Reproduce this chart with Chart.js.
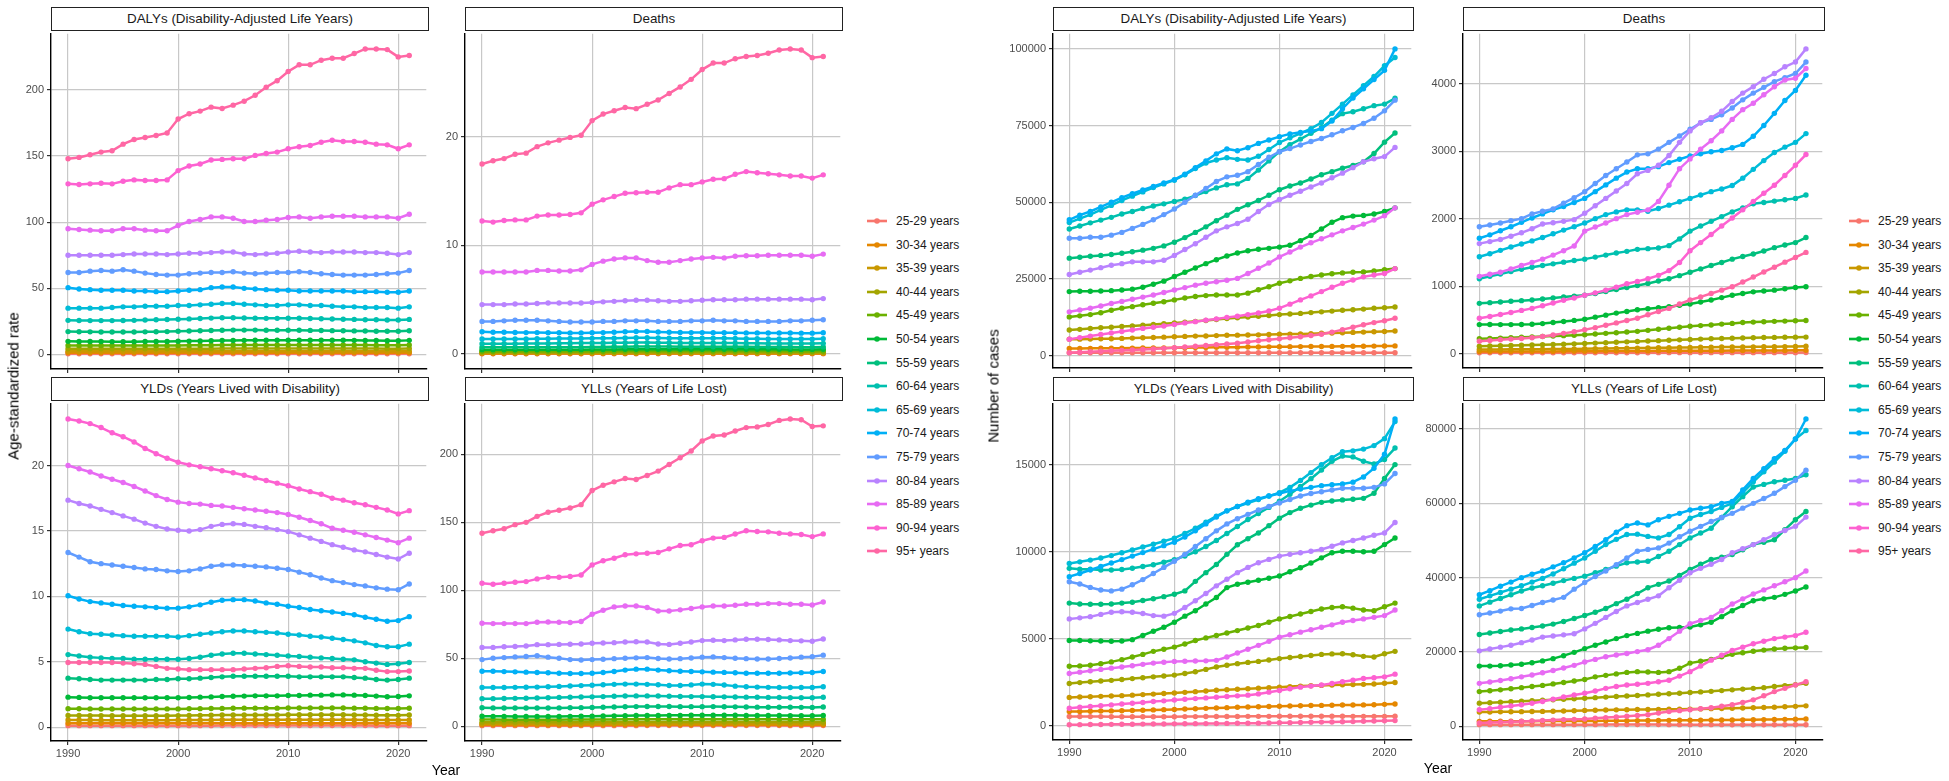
<!DOCTYPE html>
<html>
<head>
<meta charset="utf-8">
<script src="https://cdn.jsdelivr.net/npm/chart.js@4.4.1/dist/chart.umd.min.js"></script>
<style>
  body { margin: 0; background: #fff; width: 1949px; height: 781px; overflow: hidden; position: relative;
         font-family: "Liberation Sans", Arial, sans-serif; }
  .facet { position: absolute; }
  .strip { position: absolute; box-sizing: border-box; border: 1.5px solid #222; background: #fff;
           font-size: 13.4px; color: #1a1a1a; text-align: center; line-height: 21px; white-space: nowrap; }
  .ytitle { position: absolute; font-size: 15px; color: #000; white-space: nowrap;
            transform: translate(-50%, -50%) rotate(-90deg); }
  .xtitle { position: absolute; font-size: 14px; color: #000; transform: translate(-50%, -50%); }
  .item { position: absolute; height: 16px; font-size: 12px; color: #1a1a1a; white-space: nowrap; }
  .item svg { position: absolute; left: 0; top: 3px; }
  .item span { position: absolute; left: 29px; top: 0; line-height: 16px; }
</style>
</head>
<body>
<script>
const years = [1990, 1991, 1992, 1993, 1994, 1995, 1996, 1997, 1998, 1999, 2000, 2001, 2002, 2003, 2004, 2005,
               2006, 2007, 2008, 2009, 2010, 2011, 2012, 2013, 2014, 2015, 2016, 2017, 2018, 2019, 2020, 2021];
const yearTicks = [1990, 2000, 2010, 2020];

const ageGroups = ['25-29 years', '30-34 years', '35-39 years', '40-44 years', '45-49 years', '50-54 years',
                   '55-59 years', '60-64 years', '65-69 years', '70-74 years', '75-79 years', '80-84 years',
                   '85-89 years', '90-94 years', '95+ years'];
const ageColors = ['#F8766D', '#E58700', '#C99800', '#A3A500', '#6BB100', '#00BA38', '#00BF7D', '#00C0AF',
                   '#00BCD8', '#00B0F6', '#619CFF', '#B983FF', '#E76BF3', '#FD61D1', '#FF67A4'];

const facetTitles = ['DALYs (Disability-Adjusted Life Years)', 'Deaths', 'YLDs (Years Lived with Disability)', 'YLLs (Years of Life Lost)'];

// ---- age-standardized rate, one row per age group (25-29 ... 95+) ----
const rateDalys = [
  [0.55,0.55,0.54,0.54,0.53,0.53,0.53,0.53,0.53,0.53,0.53,0.54,0.55,0.56,0.56,0.57,0.57,0.57,0.57,0.57,0.58,0.58,0.58,0.58,0.57,0.57,0.57,0.57,0.56,0.56,0.56,0.57],
  [1.30,1.30,1.29,1.29,1.28,1.28,1.28,1.28,1.29,1.29,1.30,1.31,1.33,1.34,1.35,1.36,1.36,1.37,1.37,1.37,1.38,1.38,1.38,1.38,1.37,1.37,1.36,1.36,1.35,1.35,1.35,1.37],
  [2.40,2.40,2.39,2.38,2.37,2.37,2.37,2.37,2.38,2.38,2.40,2.42,2.44,2.46,2.48,2.50,2.50,2.51,2.51,2.51,2.52,2.52,2.52,2.51,2.50,2.50,2.49,2.48,2.47,2.46,2.46,2.50],
  [4.30,4.30,4.28,4.27,4.26,4.26,4.26,4.27,4.28,4.30,4.32,4.35,4.38,4.41,4.44,4.46,4.47,4.48,4.48,4.49,4.50,4.50,4.50,4.49,4.48,4.47,4.46,4.44,4.42,4.40,4.40,4.46],
  [6.80,6.78,6.75,6.72,6.70,6.70,6.70,6.72,6.75,6.78,6.82,6.88,6.95,7.02,7.08,7.12,7.14,7.16,7.16,7.17,7.18,7.18,7.18,7.16,7.14,7.12,7.10,7.07,7.03,7.00,7.00,7.10],
  [9.9,9.85,9.8,9.75,9.7,9.7,9.7,9.75,9.8,9.85,9.95,10.1,10.25,10.4,10.5,10.6,10.65,10.7,10.7,10.75,10.8,10.8,10.8,10.8,10.75,10.7,10.65,10.6,10.5,10.4,10.4,10.65],
  [17.3,17.2,17.1,17.0,17.0,17.0,17.0,17.1,17.2,17.3,17.5,17.7,17.9,18.1,18.3,18.4,18.4,18.4,18.3,18.3,18.3,18.3,18.2,18.1,18.0,17.9,17.8,17.7,17.6,17.5,17.5,17.9],
  [25.8,25.7,25.6,25.6,25.6,25.7,25.8,26.0,26.2,26.4,26.6,26.9,27.2,27.5,27.7,27.8,27.6,27.4,27.3,27.3,27.4,27.4,27.2,27.0,26.8,26.6,26.5,26.3,26.2,26.1,26.0,26.5],
  [35,35,35,35,35.5,36,36,36.5,36.5,36.5,37,37,37.5,38,38.5,38.5,38,37.5,37,37,37.5,37.5,37,37,36.5,36,36,35.5,35.5,35.5,35,36],
  [50.5,49.5,49,48.5,48.5,48.5,48,48,47.5,47.5,48,48.5,49,50.5,51,51,50,49.5,49,48.5,48.5,48,48,48,48,48,47.5,47.5,47.5,47,47,48],
  [62,62,63,63.5,63,64,63,61.5,60.5,60,60,61,61.5,62,62,62.5,61.5,61,61.5,62,62,62.5,62,61,60.5,60,60,60,60.5,61,61.5,63.5],
  [75,75,75,75,75,75.5,76,76,76,75.5,76,76.5,76.5,77,77.5,77.5,76,75.5,76,76.5,77.5,78,77.5,77,77.5,77.5,77.5,77,77,76.5,75.5,77],
  [95,94.5,94,93.5,93.5,95,95,94,93.5,93.5,97.5,100.5,102,104,104,103,100.5,100.5,101.5,102,103.5,104,103,104,104.5,104.5,104.5,104,104,104,103,106],
  [129,128.5,129,129.5,129,131,132,131.5,131.5,132,139,142.5,144,147,147.5,148,148,150.5,152,153,155.5,157,158,160.5,162,161,161,160.5,159,158.5,155.5,158.5],
  [148,149,151,153,154,159,162.5,164,165.5,167.5,178,182,184,187,186,188.5,191.5,196,202,207,214,219,219,222.5,224,224,227.5,231,231,230.5,225,226]
];
const rateDeaths = [
  [0.021,0.021,0.021,0.020,0.020,0.020,0.020,0.020,0.020,0.020,0.021,0.021,0.021,0.022,0.022,0.022,0.022,0.022,0.022,0.022,0.022,0.022,0.022,0.022,0.022,0.022,0.021,0.021,0.021,0.021,0.021,0.021],
  [0.050,0.050,0.049,0.049,0.048,0.048,0.048,0.048,0.049,0.049,0.050,0.051,0.052,0.053,0.053,0.054,0.054,0.054,0.054,0.054,0.055,0.055,0.055,0.054,0.054,0.053,0.053,0.052,0.052,0.051,0.051,0.052],
  [0.090,0.090,0.089,0.088,0.088,0.088,0.088,0.088,0.089,0.090,0.091,0.092,0.094,0.095,0.096,0.097,0.097,0.098,0.098,0.098,0.099,0.099,0.098,0.098,0.097,0.096,0.096,0.095,0.094,0.093,0.093,0.095],
  [0.150,0.150,0.149,0.148,0.147,0.147,0.147,0.148,0.149,0.150,0.152,0.154,0.156,0.158,0.160,0.161,0.162,0.162,0.162,0.163,0.163,0.163,0.163,0.162,0.161,0.160,0.159,0.158,0.157,0.156,0.156,0.159],
  [0.250,0.249,0.247,0.245,0.244,0.244,0.244,0.245,0.247,0.249,0.252,0.256,0.260,0.264,0.267,0.269,0.270,0.271,0.271,0.272,0.272,0.272,0.272,0.271,0.270,0.268,0.266,0.264,0.262,0.260,0.260,0.264],
  [0.40,0.40,0.39,0.39,0.39,0.39,0.39,0.39,0.40,0.40,0.41,0.41,0.42,0.43,0.43,0.44,0.44,0.44,0.44,0.44,0.44,0.44,0.44,0.44,0.44,0.43,0.43,0.43,0.42,0.42,0.42,0.43],
  [0.62,0.62,0.61,0.61,0.61,0.61,0.61,0.62,0.62,0.63,0.64,0.65,0.66,0.67,0.68,0.68,0.68,0.68,0.67,0.67,0.67,0.67,0.67,0.66,0.66,0.65,0.65,0.64,0.64,0.63,0.63,0.65],
  [0.95,0.95,0.95,0.95,0.96,0.96,0.97,0.98,0.99,1.00,1.01,1.02,1.03,1.04,1.05,1.05,1.04,1.03,1.02,1.02,1.02,1.02,1.01,1.00,0.99,0.98,0.97,0.97,0.96,0.96,0.96,0.98],
  [1.38,1.38,1.38,1.38,1.39,1.40,1.41,1.42,1.43,1.43,1.44,1.45,1.46,1.48,1.49,1.49,1.47,1.45,1.44,1.45,1.46,1.46,1.45,1.43,1.41,1.40,1.39,1.38,1.38,1.38,1.37,1.40],
  [2.05,2.0,2.0,1.98,1.97,1.97,1.95,1.95,1.94,1.94,1.95,1.97,2.0,2.05,2.07,2.07,2.03,2.0,1.98,1.97,1.97,1.96,1.95,1.95,1.94,1.94,1.93,1.93,1.93,1.92,1.92,1.96],
  [3.0,3.0,3.05,3.1,3.1,3.1,3.05,3.0,2.95,2.95,2.95,3.0,3.0,3.05,3.05,3.05,3.0,3.0,3.0,3.05,3.05,3.1,3.05,3.05,3.0,3.0,3.0,3.0,3.05,3.05,3.1,3.15],
  [4.55,4.55,4.55,4.6,4.6,4.65,4.7,4.7,4.7,4.7,4.75,4.8,4.85,4.9,4.95,4.95,4.9,4.85,4.85,4.9,4.95,5.0,5.0,5.0,5.05,5.05,5.05,5.05,5.05,5.05,5.0,5.1],
  [7.55,7.55,7.55,7.55,7.55,7.7,7.7,7.65,7.65,7.75,8.25,8.55,8.75,8.85,8.85,8.6,8.45,8.45,8.6,8.75,8.85,8.9,8.85,9.0,9.05,9.05,9.1,9.1,9.1,9.1,9.0,9.2],
  [12.25,12.15,12.3,12.35,12.35,12.7,12.8,12.8,12.85,13.0,13.8,14.2,14.5,14.8,14.85,14.9,14.9,15.3,15.6,15.6,15.85,16.1,16.15,16.55,16.8,16.7,16.6,16.5,16.4,16.4,16.2,16.5],
  [17.5,17.8,18.0,18.4,18.5,19.1,19.45,19.7,19.95,20.15,21.5,22.1,22.4,22.7,22.6,23.0,23.4,24.0,24.6,25.3,26.2,26.8,26.8,27.2,27.4,27.5,27.7,28.0,28.1,28.0,27.3,27.4]
];
const rateYlds = [
  [0.12,0.12,0.12,0.12,0.12,0.12,0.12,0.12,0.12,0.12,0.12,0.12,0.12,0.12,0.13,0.13,0.13,0.13,0.13,0.13,0.13,0.13,0.13,0.13,0.13,0.13,0.13,0.13,0.12,0.12,0.12,0.12],
  [0.30,0.30,0.30,0.30,0.30,0.30,0.30,0.30,0.30,0.30,0.30,0.30,0.31,0.31,0.31,0.31,0.31,0.31,0.31,0.31,0.31,0.31,0.31,0.31,0.31,0.31,0.31,0.31,0.31,0.30,0.30,0.31],
  [0.55,0.55,0.55,0.54,0.54,0.54,0.54,0.54,0.54,0.54,0.55,0.55,0.56,0.56,0.57,0.57,0.57,0.57,0.57,0.57,0.57,0.57,0.57,0.57,0.57,0.57,0.57,0.56,0.56,0.55,0.55,0.56],
  [0.90,0.90,0.89,0.89,0.88,0.88,0.88,0.88,0.88,0.88,0.89,0.90,0.91,0.92,0.93,0.94,0.94,0.94,0.94,0.94,0.95,0.95,0.95,0.95,0.95,0.95,0.94,0.93,0.92,0.91,0.91,0.93],
  [1.42,1.41,1.40,1.39,1.39,1.39,1.39,1.39,1.39,1.40,1.40,1.41,1.42,1.43,1.44,1.45,1.46,1.46,1.46,1.46,1.47,1.47,1.47,1.47,1.47,1.47,1.46,1.45,1.44,1.43,1.43,1.45],
  [2.3,2.28,2.25,2.25,2.25,2.25,2.25,2.25,2.25,2.25,2.25,2.27,2.3,2.32,2.35,2.37,2.38,2.4,2.4,2.4,2.42,2.43,2.45,2.45,2.47,2.47,2.45,2.42,2.38,2.33,2.35,2.4],
  [3.75,3.7,3.65,3.6,3.6,3.6,3.6,3.6,3.65,3.65,3.7,3.7,3.75,3.8,3.85,3.9,3.9,3.9,3.9,3.9,3.9,3.85,3.85,3.85,3.85,3.85,3.8,3.75,3.65,3.6,3.65,3.75],
  [5.55,5.45,5.35,5.3,5.25,5.25,5.2,5.2,5.2,5.2,5.2,5.25,5.35,5.5,5.6,5.65,5.65,5.6,5.55,5.5,5.45,5.4,5.35,5.3,5.25,5.2,5.15,5.0,4.9,4.8,4.85,4.95],
  [7.5,7.3,7.15,7.1,7.05,7.0,6.95,6.95,6.95,6.95,6.9,7.0,7.1,7.2,7.3,7.35,7.35,7.3,7.25,7.2,7.1,7.05,6.95,6.9,6.8,6.7,6.6,6.45,6.25,6.15,6.15,6.35],
  [10.05,9.8,9.6,9.5,9.4,9.3,9.25,9.2,9.15,9.1,9.1,9.2,9.35,9.55,9.7,9.75,9.75,9.65,9.5,9.4,9.25,9.15,9.0,8.9,8.8,8.7,8.6,8.4,8.25,8.1,8.15,8.45],
  [13.35,13.0,12.65,12.5,12.4,12.3,12.2,12.1,12.05,11.95,11.9,11.95,12.1,12.3,12.4,12.4,12.35,12.3,12.25,12.15,12.05,11.85,11.65,11.4,11.2,11.05,10.9,10.8,10.65,10.55,10.5,10.95],
  [17.35,17.1,16.9,16.65,16.4,16.15,15.9,15.6,15.35,15.15,15.05,15.0,15.1,15.35,15.5,15.55,15.5,15.35,15.25,15.1,14.95,14.7,14.45,14.2,13.95,13.75,13.55,13.4,13.2,13.0,12.85,13.3],
  [20,19.75,19.5,19.2,18.95,18.7,18.4,18.05,17.7,17.4,17.2,17.1,17.05,16.95,16.9,16.8,16.7,16.6,16.5,16.4,16.25,16.05,15.8,15.55,15.2,15.05,14.9,14.7,14.5,14.3,14.1,14.45],
  [23.55,23.4,23.2,22.9,22.5,22.2,21.8,21.3,20.9,20.55,20.25,20.05,19.9,19.75,19.6,19.45,19.25,19.05,18.85,18.65,18.45,18.2,18.0,17.8,17.5,17.35,17.15,17.0,16.8,16.6,16.3,16.55],
  [4.95,4.95,4.95,4.95,4.95,4.9,4.85,4.8,4.65,4.5,4.45,4.4,4.4,4.4,4.4,4.4,4.45,4.5,4.55,4.65,4.7,4.65,4.6,4.6,4.55,4.55,4.5,4.5,4.35,4.25,4.25,4.3]
];
const rateYlls = [
  [0.43,0.43,0.42,0.42,0.41,0.41,0.41,0.41,0.41,0.41,0.41,0.42,0.43,0.44,0.44,0.45,0.45,0.45,0.45,0.45,0.46,0.46,0.46,0.46,0.45,0.45,0.45,0.45,0.44,0.44,0.44,0.45],
  [1.00,1.00,0.99,0.99,0.98,0.98,0.98,0.98,0.99,0.99,1.00,1.01,1.02,1.03,1.04,1.05,1.05,1.06,1.06,1.06,1.07,1.07,1.07,1.07,1.06,1.06,1.05,1.05,1.04,1.04,1.04,1.06],
  [1.85,1.85,1.84,1.84,1.83,1.83,1.83,1.83,1.84,1.84,1.85,1.87,1.88,1.90,1.91,1.93,1.93,1.94,1.94,1.94,1.95,1.95,1.95,1.94,1.93,1.93,1.92,1.92,1.91,1.91,1.91,1.94],
  [3.00,3.00,2.99,2.98,2.98,2.98,2.98,2.99,3.00,3.02,3.03,3.05,3.07,3.09,3.11,3.12,3.13,3.14,3.14,3.15,3.15,3.15,3.15,3.14,3.13,3.12,3.12,3.11,3.10,3.09,3.09,3.13],
  [4.88,4.87,4.85,4.83,4.81,4.81,4.81,4.83,4.86,4.88,4.92,4.97,5.03,5.09,5.14,5.17,5.18,5.20,5.20,5.21,5.21,5.21,5.21,5.19,5.17,5.15,5.14,5.12,5.09,5.07,5.07,5.15],
  [7.30,7.27,7.25,7.20,7.15,7.15,7.15,7.20,7.25,7.30,7.40,7.53,7.65,7.78,7.85,7.93,7.97,8.00,8.00,8.05,8.08,8.07,8.05,8.05,7.98,7.93,7.90,7.88,7.82,7.77,7.75,7.95],
  [13.6,13.5,13.45,13.4,13.4,13.4,13.4,13.5,13.55,13.65,13.8,14.0,14.15,14.3,14.45,14.5,14.5,14.5,14.4,14.4,14.4,14.45,14.35,14.25,14.15,14.05,14.0,13.95,13.95,13.9,13.85,14.15],
  [20.3,20.3,20.4,20.5,20.6,20.8,21,21.2,21.3,21.5,21.6,21.8,22,22.2,22.3,22.3,22.2,22,21.9,21.8,21.8,21.7,21.6,21.5,21.4,21.3,21.2,21.1,21,21,21,21.3],
  [28.5,28.5,28.5,28.6,28.7,28.8,29,29.3,29.6,29.9,30.2,30.5,30.8,31,31,30.8,30.5,30,30,30.4,31,30.8,30.3,29.5,29,28.8,28.6,28.5,28.5,28.5,28.5,29],
  [40.5,40.5,40.2,40,39.8,39.5,39.3,39,38.8,38.8,39,39.5,40.3,41.3,42,42,41.3,40.8,40.5,40.3,40,39.8,39.6,39.3,39,39,39,39,39.2,39.4,39.5,40.3],
  [49,50,50.5,51,51.3,51.8,50.8,50,49,48.7,49,49.3,49.7,50,50.3,50.5,49.8,49.5,49.7,50.2,50.8,51,50.5,50,49.7,49.5,49.5,49.8,50.2,50.8,51.2,52.3],
  [58,58,58.5,58.7,59,60,60,60.2,60.3,60.5,61,61.2,61.5,62,62.2,62,60.5,60.2,61,62,63,63.2,63,63.5,64,64,63.8,63.5,63,62.8,62.5,64.2],
  [75.8,75.5,75.5,75.5,75.5,76.5,76.7,76.5,76.3,77,82.4,85.3,87.8,88.5,88.5,87.3,84.8,84.8,85.6,86.6,87.8,88.5,88.5,89,89.7,89.7,90.2,90.2,89.7,89.7,89.2,91.4],
  [105.2,104.4,105.2,105.9,106.4,108.4,109.6,109.6,110.1,111.3,118.7,121.7,123.6,126.1,126.8,127.3,127.8,130.5,133,133.5,136.5,138.4,138.9,141.4,143.8,143.3,143,142,141.5,141,139.5,141.5],
  [142,143.8,145.3,148.3,150,154.4,157.4,158.9,160.6,163,173.4,177.3,179.8,182.3,181.5,184.5,187.7,192.6,197.5,202.5,209.9,213.5,214.3,217.2,219.7,220.2,222,225,226,225.5,220.5,221]
];

// ---- number of cases, one row per age group (25-29 ... 95+) ----
const numDalys = [
  [960,960,955,955,950,950,950,950,950,950,950,955,960,965,965,970,970,975,970,970,975,970,970,970,965,965,965,960,960,960,960,965],
  [2360,2380,2400,2420,2440,2460,2480,2500,2520,2540,2560,2600,2640,2680,2720,2760,2800,2830,2860,2890,2920,2950,2980,3000,3020,3040,3060,3080,3100,3130,3160,3200],
  [5360,5400,5450,5500,5550,5650,5750,5850,5950,6050,6200,6300,6400,6450,6550,6650,6700,6750,6800,6900,7000,7050,7100,7200,7300,7400,7500,7600,7700,7800,7900,8040],
  [8360,8600,8850,9100,9300,9500,9700,9950,10200,10450,10700,10950,11200,11500,11800,12100,12350,12600,12850,13100,13400,13600,13800,14050,14300,14550,14800,15000,15200,15450,15650,15900],
  [12650,13000,13400,14000,14800,15500,16000,16600,17100,17600,18200,18800,19300,19600,19800,19800,19800,20400,21500,22500,23600,24400,25200,25800,26300,26700,27000,27200,27300,27600,28000,28400],
  [20900,21000,21000,21100,21200,21400,21700,22300,23300,24300,25800,27200,28600,30000,31300,32500,33500,34200,34700,35000,35400,36000,37500,39200,41300,43500,45000,45500,45700,46200,47000,48200],
  [31800,32100,32400,32700,33000,33400,33900,34400,35000,35800,37000,38500,40200,42000,44000,45800,47700,49200,50600,52300,54100,55300,56300,57600,59000,60000,61100,62000,63200,65900,69600,72600],
  [41300,42300,43300,44200,45100,46200,47000,48000,48800,49500,50300,51000,52200,53500,54700,55700,56000,57800,60500,63500,66500,68800,70600,72500,74300,76800,78900,79500,80500,81500,82000,83900],
  [43400,44700,46000,47500,49000,50600,52000,53400,54800,56000,57200,59000,61000,62800,63800,64500,64000,63800,65000,67200,69500,71000,72500,74000,76000,79000,82000,85000,88000,91000,94500,97200],
  [44300,45800,47000,48500,50000,51500,52800,54000,55200,56300,57400,59200,61300,63500,65800,67400,66800,67800,69200,70300,71400,72300,72800,73200,74000,76500,80500,84000,87000,90000,93000,100000],
  [38300,38300,38600,38600,39300,40200,41500,42800,44300,46000,47800,50000,52300,54500,56800,58300,58800,60000,62300,64700,66500,67500,68700,69800,70800,72000,73300,74400,75700,77400,79800,83300],
  [26500,27200,27900,28700,29500,30000,30600,30600,30600,31100,32700,34600,36500,38600,40700,42000,43100,44500,47000,49300,50900,52300,53600,55000,56300,58000,59500,61300,63200,64200,64900,67900],
  [14300,14900,15500,16200,17000,17700,18400,19100,19800,20600,21400,22200,23000,23600,24100,24600,25200,26800,28500,30200,32200,33800,35400,36800,38100,39400,40700,41800,42900,44200,45600,48200],
  [5360,5900,6400,6900,7400,7900,8400,8900,9300,9700,10200,10700,11100,11600,12000,12500,12900,13400,13900,14600,15500,16800,18200,19500,20900,22300,23600,24700,25700,26300,26800,28400],
  [1000,1150,1300,1450,1600,1750,1900,2050,2200,2400,2600,2850,3100,3350,3600,3850,4100,4500,4900,5200,5500,5850,6200,6600,7000,7700,8500,9300,10100,10800,11400,12200]
];
const numDeaths = [
  [12,12,12,12,12,12,12,12,12,12,12,13,13,13,13,13,13,14,14,14,14,14,14,14,14,14,14,14,14,14,14,15],
  [30,30,31,31,32,32,33,33,34,34,35,36,37,38,39,40,40,41,42,42,43,43,44,44,45,45,46,46,47,47,48,50],
  [60,61,62,63,64,65,66,67,68,70,72,74,76,78,80,82,84,86,88,90,92,94,96,97,98,99,100,101,102,104,106,110],
  [110,113,116,120,124,128,132,136,140,145,150,156,162,168,174,180,186,192,198,204,210,215,220,224,228,232,235,238,240,242,244,245],
  [220,225,230,236,242,248,254,260,266,272,280,290,300,310,320,330,345,360,375,390,405,415,425,437,448,460,467,473,478,482,486,490],
  [430,432,430,430,432,435,445,460,475,492,510,540,570,600,625,650,665,680,695,715,735,765,795,830,865,890,915,928,940,960,980,990],
  [745,755,765,775,785,795,810,825,840,852,865,890,920,950,980,1010,1040,1075,1110,1155,1205,1255,1305,1350,1400,1440,1475,1520,1570,1610,1645,1720],
  [1110,1145,1180,1215,1250,1280,1305,1330,1355,1380,1400,1430,1460,1490,1515,1545,1555,1565,1600,1700,1815,1890,1960,2030,2100,2160,2220,2240,2260,2280,2300,2350],
  [1435,1480,1530,1580,1625,1670,1720,1775,1830,1880,1935,2000,2060,2100,2130,2130,2110,2150,2200,2250,2300,2350,2400,2440,2490,2600,2730,2860,2980,3060,3130,3260],
  [1710,1760,1820,1880,1945,2010,2070,2130,2180,2240,2300,2400,2500,2600,2690,2740,2740,2770,2830,2880,2930,2960,2990,3010,3050,3100,3220,3380,3560,3750,3900,4125],
  [1880,1905,1935,1970,2000,2070,2110,2145,2230,2310,2400,2520,2640,2740,2840,2945,2960,3030,3130,3225,3325,3420,3470,3540,3640,3760,3860,3945,4030,4090,4150,4320],
  [1630,1660,1690,1740,1790,1850,1920,1940,1960,1985,2080,2190,2300,2410,2520,2665,2715,2790,2935,3130,3300,3420,3495,3590,3735,3860,3955,4065,4150,4250,4320,4515],
  [1145,1175,1205,1255,1305,1350,1400,1460,1525,1595,1815,1875,1935,2000,2060,2095,2130,2255,2495,2740,2885,3030,3155,3300,3470,3615,3710,3835,3955,4055,4080,4225],
  [525,550,580,610,640,670,710,750,790,825,865,900,940,985,1035,1070,1110,1160,1230,1350,1525,1645,1765,1890,2010,2130,2255,2375,2495,2640,2790,2950],
  [185,195,205,215,225,235,255,275,300,325,355,385,420,455,490,525,575,625,670,735,795,840,890,940,990,1060,1135,1210,1280,1355,1425,1500]
];
const numYlds = [
  [530,530,525,525,520,520,520,520,520,520,520,525,525,530,530,535,535,540,540,540,545,545,545,545,545,545,545,540,540,540,540,545],
  [815,825,835,845,855,865,880,895,910,925,940,960,980,1000,1020,1040,1060,1075,1090,1105,1120,1135,1150,1160,1170,1180,1190,1195,1200,1210,1230,1250],
  [1630,1650,1670,1690,1710,1730,1760,1790,1820,1850,1880,1920,1960,2000,2040,2070,2100,2130,2160,2190,2220,2250,2280,2300,2320,2340,2360,2370,2380,2400,2440,2490],
  [2430,2480,2530,2570,2610,2660,2710,2760,2810,2860,2910,3000,3100,3240,3380,3480,3570,3640,3700,3780,3860,3920,3980,4040,4100,4130,4140,4080,3990,3950,4140,4275],
  [3420,3440,3480,3560,3670,3800,3950,4100,4275,4400,4520,4700,4900,5050,5190,5330,5470,5620,5760,5950,6140,6280,6420,6570,6710,6800,6840,6760,6650,6610,6840,7050],
  [4900,4900,4880,4870,4860,4870,4950,5190,5430,5660,5950,6300,6610,7000,7370,7940,8130,8250,8360,8480,8610,8850,9080,9350,9650,9940,10030,10030,10000,10030,10410,10790],
  [7050,7000,6980,6980,7000,7050,7100,7200,7300,7420,7560,7750,8300,8800,9270,9850,10400,10750,11080,11500,11930,12250,12500,12680,12840,12920,12980,13020,13070,13360,14210,15010],
  [9045,9000,9000,8950,8950,8980,9050,9150,9250,9400,9550,9750,10000,10300,10650,11050,11450,11850,12200,12550,12900,13300,13750,14200,14700,15200,15500,15450,15200,15050,15300,15960],
  [9330,9420,9520,9640,9780,9940,10100,10270,10430,10600,10780,11050,11350,11700,12050,12350,12600,12800,13000,13200,13400,13700,14100,14550,15000,15400,15750,15800,15900,16100,16500,17480],
  [8570,8750,8950,9150,9350,9550,9750,9950,10150,10350,10550,10850,11200,11600,12000,12350,12600,12850,13050,13200,13350,13500,13600,13700,13800,13850,13900,14000,14300,14800,15600,17630],
  [8280,8150,7950,7800,7750,7850,8100,8400,8750,9100,9450,9850,10300,10750,11200,11600,11900,12150,12400,12600,12800,13000,13200,13350,13450,13550,13650,13650,13650,13700,13900,14500],
  [6140,6200,6270,6400,6520,6550,6520,6450,6330,6300,6460,6800,7180,7600,8040,8420,8800,9100,9370,9560,9750,9850,9940,10030,10130,10320,10510,10650,10790,10950,11080,11685],
  [3000,3080,3160,3240,3310,3380,3450,3530,3600,3650,3700,3710,3720,3730,3760,3950,4180,4400,4620,4850,5090,5230,5380,5520,5660,5800,5950,6050,6140,6230,6330,6650],
  [1010,1060,1110,1150,1200,1250,1290,1340,1390,1430,1480,1520,1560,1600,1640,1680,1720,1760,1830,1930,2030,2130,2220,2280,2340,2430,2530,2620,2720,2760,2810,2965],
  [60,65,70,75,80,85,90,95,100,105,110,115,120,125,130,135,140,145,150,160,170,180,190,200,210,220,230,240,255,270,285,300]
];
const numYlls = [
  [440,440,440,440,440,440,440,440,440,440,440,440,445,445,445,445,445,445,440,440,440,435,435,435,430,430,430,425,425,425,420,420],
  [1330,1340,1350,1360,1370,1380,1390,1400,1410,1420,1430,1450,1470,1490,1510,1530,1550,1570,1590,1610,1630,1650,1670,1690,1710,1730,1760,1790,1820,1860,1910,1960],
  [3820,3850,3880,3900,3930,3960,4000,4050,4100,4180,4270,4320,4370,4420,4460,4500,4530,4560,4590,4600,4620,4680,4740,4800,4860,4920,4990,5060,5140,5240,5360,5500],
  [6220,6350,6480,6610,6740,6870,7000,7140,7280,7420,7560,7700,7850,8000,8150,8300,8450,8600,8750,8900,9070,9250,9400,9600,9800,10000,10200,10400,10700,10950,11200,11550],
  [9330,9550,9800,10100,10400,10700,11000,11400,11800,12200,12600,13300,13700,14100,14500,14700,14600,14500,14700,15600,17000,17500,18000,18700,19400,19800,20200,20500,20800,21000,21100,21200],
  [16200,16200,16300,16500,16700,17100,17600,18200,19000,19900,20900,21800,22700,23600,24400,25000,25600,26100,26500,26600,26700,27300,28000,29500,31100,32500,33800,34300,34700,35500,36400,37500],
  [24700,25100,25500,25900,26200,26600,27000,27500,28200,29000,29800,30700,31700,33000,34200,35700,37300,38200,39100,40600,42200,43600,44900,45500,46200,47500,48900,49500,50200,52900,55600,57800],
  [32400,33400,34400,35400,36400,37200,37800,38500,39200,39800,40400,41300,42200,43100,44000,44200,44400,45700,47100,48900,50700,52000,53300,56200,59100,61800,64400,65100,65800,66200,66700,67700],
  [34200,35100,36000,36900,37800,38800,39800,41000,42400,43900,45300,47100,48900,50300,51600,51700,51100,50700,51600,53700,56000,57000,57800,58900,60000,62900,65800,68500,71100,74000,77300,79600],
  [35400,36500,37700,38800,40000,40900,41800,42900,44000,45300,46700,48400,50200,52200,54000,54700,54200,55600,56500,57300,58200,58700,59100,60000,60500,63600,66700,69300,72000,74200,77300,82700],
  [30000,30500,31000,31600,31700,32500,33300,34000,34700,36900,38700,40300,41800,43500,45300,47100,47600,48000,49300,51000,52500,53800,55100,56200,57300,58700,60000,61300,62700,64500,66200,68900],
  [20300,20800,21300,21800,22500,23200,24000,24300,24600,24900,26200,27700,29300,30900,32400,33300,34200,35100,37300,39300,41300,42500,43600,44900,46700,47800,48900,50200,51600,52700,53800,56300],
  [11550,11900,12300,12800,13300,13800,14400,15000,15700,16400,17300,18000,18700,19200,19600,20100,20600,21800,23600,25600,27600,28500,29300,31100,32900,34300,35600,36700,37800,38900,40000,41800],
  [4440,4750,5100,5450,5800,6200,6670,7300,7900,8400,8890,9500,10200,10700,11100,11300,11550,12000,12400,13500,14700,16200,17800,19100,20400,21300,22200,22900,23600,24000,24400,25300],
  [890,990,1090,1200,1310,1420,1540,1660,1790,1870,1960,2140,2330,2520,2720,2910,3110,3550,3950,4200,4440,4700,5000,5400,5780,6400,7110,8200,9330,10200,11100,12000]
];

const rateDalysTicks = [0, 50, 100, 150, 200];
const rateDeathsTicks = [0, 10, 20];
const rateYldsTicks = [0, 5, 10, 15, 20];
const rateYllsTicks = [0, 50, 100, 150, 200];
const numDalysTicks = [0, 25000, 50000, 75000, 100000];
const numDeathsTicks = [0, 1000, 2000, 3000, 4000];
const numYldsTicks = [0, 5000, 10000, 15000];
const numYllsTicks = [0, 20000, 40000, 60000, 80000];

// where each facet's plotting area sits on the page
const facets = [
  { series: rateDalys,  ticks: rateDalysTicks,  title: 0, x: 51,   y: 31,  w: 378, h: 338, yw: 50, bottom: false },
  { series: rateDeaths, ticks: rateDeathsTicks, title: 1, x: 465,  y: 31,  w: 378, h: 338, yw: 50, bottom: false },
  { series: rateYlds,   ticks: rateYldsTicks,   title: 2, x: 51,   y: 401, w: 378, h: 340, yw: 50, bottom: true },
  { series: rateYlls,   ticks: rateYllsTicks,   title: 3, x: 465,  y: 401, w: 378, h: 340, yw: 50, bottom: true },
  { series: numDalys,   ticks: numDalysTicks,   title: 0, x: 1053, y: 31,  w: 361, h: 337, yw: 58, bottom: false },
  { series: numDeaths,  ticks: numDeathsTicks,  title: 1, x: 1463, y: 31,  w: 362, h: 337, yw: 58, bottom: false },
  { series: numYlds,    ticks: numYldsTicks,    title: 2, x: 1053, y: 401, w: 361, h: 339, yw: 58, bottom: true },
  { series: numYlls,    ticks: numYllsTicks,    title: 3, x: 1463, y: 401, w: 362, h: 339, yw: 58, bottom: true }
];

Chart.defaults.font.family = '"Liberation Sans", Arial, sans-serif';

const xSpan = years[years.length - 1] - years[0];
const xMin = years[0] - xSpan * 0.05;
const xMax = years[years.length - 1] + xSpan * 0.05;

function addDiv(cls, css, text) {
  const d = document.createElement('div');
  d.className = cls;
  Object.assign(d.style, css);
  if (text !== undefined) d.textContent = text;
  document.body.appendChild(d);
  return d;
}

function drawFacet(f) {
  const xh = f.bottom ? 24 : 6;
  const box = addDiv('facet', { left: (f.x - f.yw) + 'px', top: f.y + 'px' });
  const cv = document.createElement('canvas');
  cv.width = f.yw + f.w;
  cv.height = f.h + xh;
  cv.style.width = cv.width + 'px';
  cv.style.height = cv.height + 'px';
  box.appendChild(cv);

  addDiv('strip', { left: f.x + 'px', top: (f.y - 24) + 'px', width: f.w + 'px', height: '24px' }, facetTitles[f.title]);

  // ggplot-like 5% expansion of the data range
  const all = f.series.flat();
  const lo = Math.min(...all), hi = Math.max(...all);
  const pad = (hi - lo) * 0.05;

  const datasets = f.series.map((vals, i) => ({
    label: ageGroups[i],
    data: vals.map((v, j) => ({ x: years[j], y: v })),
    borderColor: ageColors[i],
    backgroundColor: ageColors[i],
    borderWidth: 2.5,
    pointRadius: 2.7,
    pointBorderWidth: 0,
    pointHoverRadius: 0,
    tension: 0,
    order: ageGroups.length - i
  }));

  const gridCol = '#c8c8c8';
  new Chart(cv, {
    type: 'line',
    data: { datasets },
    options: {
      responsive: false,
      animation: false,
      layout: { padding: 0 },
      events: [],
      plugins: { legend: { display: false }, tooltip: { enabled: false } },
      scales: {
        x: {
          type: 'linear', min: xMin, max: xMax,
          afterBuildTicks: s => { s.ticks = yearTicks.map(v => ({ value: v })); },
          afterFit: s => { s.height = xh; s.paddingLeft = 0; s.paddingRight = 0; },
          grid: { color: gridCol, lineWidth: 1.2, tickLength: 4, tickColor: '#333', tickWidth: 1.2 },
          border: { color: '#000', width: 1.4 },
          ticks: { color: '#4d4d4d', font: { size: 11 }, padding: 2, maxRotation: 0, autoSkip: false,
                   callback: v => f.bottom ? String(v) : '' }
        },
        y: {
          type: 'linear', min: lo - pad, max: hi + pad,
          afterBuildTicks: s => { s.ticks = f.ticks.map(v => ({ value: v })); },
          afterFit: s => { s.width = f.yw; s.paddingTop = 0; s.paddingBottom = 0; },
          grid: { color: gridCol, lineWidth: 1.2, tickLength: 4, tickColor: '#333', tickWidth: 1.2 },
          border: { color: '#000', width: 1.4 },
          ticks: { color: '#4d4d4d', font: { size: 11 }, padding: 3, autoSkip: false,
                   callback: v => String(v) }
        }
      }
    }
  });
}

facets.forEach(drawFacet);

function drawLegend(left, top) {
  ageGroups.forEach((g, i) => {
    const it = addDiv('item', { left: left + 'px', top: (top + i * 23.6 - 8) + 'px' });
    it.innerHTML = '<svg width="20" height="10"><line x1="0" y1="5" x2="20" y2="5" stroke="' + ageColors[i] +
      '" stroke-width="2.6"/><circle cx="10" cy="5" r="2.8" fill="' + ageColors[i] + '"/></svg>';
    const sp = document.createElement('span');
    sp.textContent = g;
    it.appendChild(sp);
  });
}
drawLegend(867, 221);
drawLegend(1849, 221);

addDiv('ytitle', { left: '13px', top: '386px' }, 'Age-standardized rate');
addDiv('ytitle', { left: '993px', top: '386px' }, 'Number of cases');
addDiv('xtitle', { left: '446px', top: '770px' }, 'Year');
addDiv('xtitle', { left: '1438px', top: '768px' }, 'Year');
</script>
</body>
</html>
